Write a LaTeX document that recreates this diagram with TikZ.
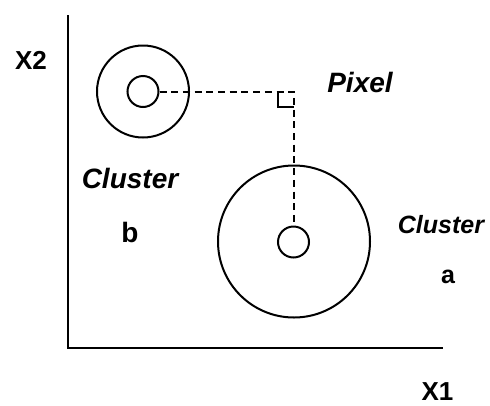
\documentclass[tikz,border=0pt]{standalone}
\usepackage{fontspec}
\setmainfont{Liberation Sans}
\begin{document}
\begin{tikzpicture}[x=1pt,y=-1pt,
  ring/.style={draw,circle,inner sep=0pt,line width=2pt},
  lead/.style={line width=2pt,dash pattern=on 7pt off 4.7pt},
  axisline/.style={line width=2pt},
  lbl/.style={anchor=base,inner sep=0pt,font=\fontsize{26}{30}\selectfont\bfseries},
  lbli/.style={lbl,font=\fontsize{28}{32}\selectfont\bfseries\itshape}]
\useasboundingbox (0,0) rectangle (490,405);
% axes
\coordinate (top) at (67.5,15);
\coordinate (org) at (67.5,348);
\coordinate (right) at (443,348);
\draw[axisline] (top) -- (org) -- (right);
% cluster b
\node[ring,minimum size=92pt] (bout) at (143,91.5) {};
\node[ring,minimum size=31pt] (bin) at (143,91.5) {};
% cluster a
\node[ring,minimum size=152pt] (aout) at (294,241.5) {};
\node[ring,minimum size=31pt] (ain) at (293.5,242) {};
% pixel corner
\coordinate (corner) at (293.5,91.5);
\draw[lead] (bin) -- (corner) -- (ain);
\draw[line width=2pt] (278,91.5) -- (278,107) -- (293.5,107);
% labels
\node[lbl] (x2) at (31,69.5) {X2};
\node[lbl] (x1) at (437.5,400) {X1};
\node[lbli] (pix) at (360,92) {Pixel};
\node[lbli] (clb) at (130,188) {Cluster};
\node[lbl,font=\fontsize{28}{32}\selectfont\bfseries] (b) at (130,242) {b};
\node[lbli,font=\fontsize{25}{30}\selectfont\bfseries\itshape] (cla) at (441,233) {Cluster};
\node[lbl,font=\fontsize{25}{30}\selectfont\bfseries] (a) at (448,283) {a};
\end{tikzpicture}
\end{document}
